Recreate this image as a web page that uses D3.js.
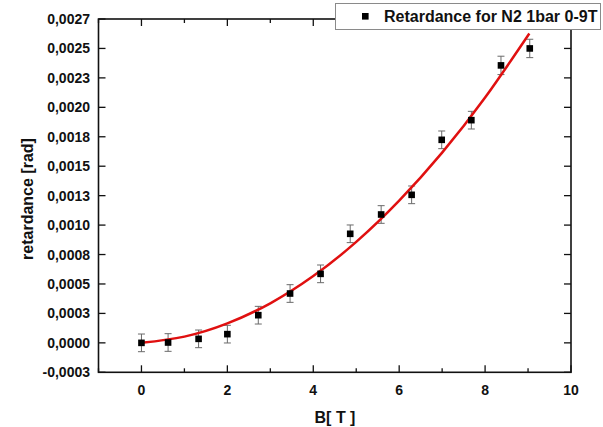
<!DOCTYPE html>
<html>
<head>
<meta charset="utf-8">
<script src="https://d3js.org/d3.v7.min.js"></script>
<style>
  body { margin: 0; background: #fff; }
  text { font-family: Arial, "Liberation Sans", Helvetica, sans-serif; font-weight: bold; fill: #111; }
</style>
</head>
<body>
<div id="chart"></div>
<script>
// measured points
var fieldT = [0, 0.62, 1.33, 2.0, 2.72, 3.46, 4.17, 4.86, 5.58, 6.29, 6.99, 7.68, 8.37, 9.04];
var retardance = [0, 0.000003, 0.000034, 0.000074, 0.000235, 0.000419, 0.000586, 0.000926, 0.00109, 0.001257, 0.001724, 0.001891, 0.002356, 0.0025];
var retErr = [0.000075, 0.000075, 0.000075, 0.000075, 0.000075, 0.000075, 0.000075, 0.000075, 0.000075, 0.000075, 0.000075, 0.000075, 0.000078, 0.000078];

// red fit curve
var fitT = [0, 1, 2, 3, 4, 5, 6, 7, 8, 9.03];
var fitRet = [0, 0.000053, 0.000165, 0.000336, 0.000567, 0.000857, 0.001207, 0.001615, 0.002083, 0.002627];

var xTicks = [0, 2, 4, 6, 8, 10];
var xMinor = [-1, 1, 3, 5, 7, 9];
var yTickLabels = ["-0,0003", "0,0000", "0,0003", "0,0005", "0,0008", "0,0010", "0,0013",
                   "0,0015", "0,0018", "0,0020", "0,0023", "0,0025", "0,0027"];
var yTicks = yTickLabels.map(function(d, i) { return (i - 1) * 0.00025; });

var legendLabel = "Retardance for N2 1bar 0-9T";

var W = 603, H = 427;
var pl = 98.5, pr = 571, pt = 19, pb = 372.3;

var svg = d3.select("#chart").append("svg")
    .attr("width", W)
    .attr("height", H);

var x = d3.scaleLinear().domain([-1, 10]).range([pl, pr]);
var y = d3.scaleLinear().domain([-0.00025, 0.00275]).range([pb, pt]);

// ticks all point inward
var tg = svg.append("g").attr("stroke", "#111").attr("stroke-width", 1.3);
xTicks.forEach(function(t) {
    tg.append("line").attr("x1", x(t)).attr("x2", x(t)).attr("y1", pb).attr("y2", pb - 7);
    tg.append("line").attr("x1", x(t)).attr("x2", x(t)).attr("y1", pt).attr("y2", pt + 7);
});
xMinor.forEach(function(t) {
    tg.append("line").attr("x1", x(t)).attr("x2", x(t)).attr("y1", pb).attr("y2", pb - 4);
    tg.append("line").attr("x1", x(t)).attr("x2", x(t)).attr("y1", pt).attr("y2", pt + 4);
});
yTicks.forEach(function(t) {
    tg.append("line").attr("x1", pl).attr("x2", pl + 7).attr("y1", y(t)).attr("y2", y(t));
    tg.append("line").attr("x1", pr).attr("x2", pr - 7).attr("y1", y(t)).attr("y2", y(t));
});

svg.append("rect")
    .attr("x", pl).attr("y", pt)
    .attr("width", pr - pl).attr("height", pb - pt)
    .attr("fill", "none")
    .attr("stroke", "#111")
    .attr("stroke-width", 1.6);

// tick labels
svg.append("g").selectAll("text")
    .data(xTicks)
    .enter().append("text")
    .attr("x", function(d) { return x(d); })
    .attr("y", 395)
    .attr("text-anchor", "middle")
    .style("font-size", "14px")
    .text(function(d) { return d; });

svg.append("g").selectAll("text")
    .data(yTicks)
    .enter().append("text")
    .attr("x", 90)
    .attr("y", function(d) { return y(d) + 5; })
    .attr("text-anchor", "end")
    .style("font-size", "14px")
    .text(function(d, i) { return yTickLabels[i]; });

// axis titles
svg.append("text")
    .attr("x", 335).attr("y", 423)
    .attr("text-anchor", "middle")
    .style("font-size", "16px")
    .text("B[ T ]");

svg.append("text")
    .attr("transform", "translate(32.5,199) rotate(-90)")
    .attr("text-anchor", "middle")
    .style("font-size", "16px")
    .text("retardance [rad]");

// error bars
var eb = svg.append("g").attr("stroke", "#6a6a6a").attr("stroke-width", 1);
fieldT.forEach(function(t, i) {
    var cx = x(t), y1 = y(retardance[i] - retErr[i]), y2 = y(retardance[i] + retErr[i]);
    eb.append("line").attr("x1", cx).attr("x2", cx).attr("y1", y1).attr("y2", y2);
    eb.append("line").attr("x1", cx - 3.5).attr("x2", cx + 3.5).attr("y1", y1).attr("y2", y1);
    eb.append("line").attr("x1", cx - 3.5).attr("x2", cx + 3.5).attr("y1", y2).attr("y2", y2);
});

// fit line
var line = d3.line()
    .x(function(d) { return x(d[0]); })
    .y(function(d) { return y(d[1]); })
    .curve(d3.curveNatural);

svg.append("path")
    .datum(fitT.map(function(t, i) { return [t, fitRet[i]]; }))
    .attr("d", line)
    .attr("fill", "none")
    .attr("stroke", "#e01010")
    .attr("stroke-width", 2.5);

// markers
svg.append("g").selectAll("rect")
    .data(fieldT)
    .enter().append("rect")
    .attr("x", function(d) { return x(d) - 3.3; })
    .attr("y", function(d, i) { return y(retardance[i]) - 3.3; })
    .attr("width", 6.6)
    .attr("height", 6.6)
    .attr("fill", "#000");

// legend, drawn over the frame
var lg = svg.append("g");
lg.append("rect")
    .attr("x", 335.5).attr("y", 3.5)
    .attr("width", 265).attr("height", 26)
    .attr("fill", "#fff")
    .attr("stroke", "#8a8a8a")
    .attr("stroke-width", 1);
lg.append("rect")
    .attr("x", 362).attr("y", 13)
    .attr("width", 6.6).attr("height", 6.6)
    .attr("fill", "#000");
lg.append("text")
    .attr("x", 384).attr("y", 22)
    .style("font-size", "16px")
    .text(legendLabel);
</script>
</body>
</html>
